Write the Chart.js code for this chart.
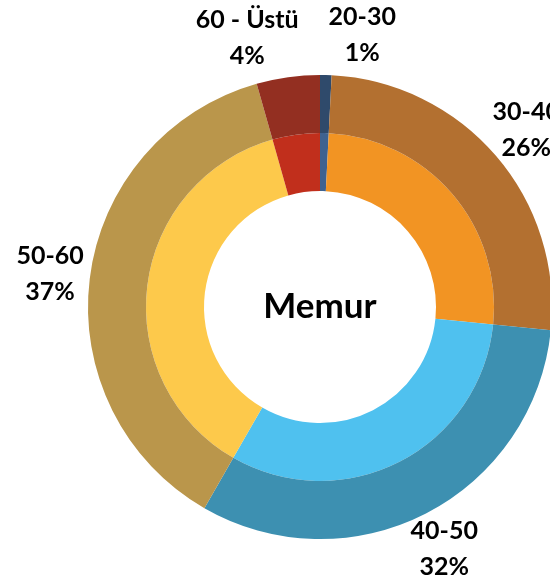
<!DOCTYPE html>
<html>
<head>
<meta charset="utf-8">
<script src="https://cdn.jsdelivr.net/npm/chart.js@4/dist/chart.umd.min.js"></script>
<style>
  html, body { margin: 0; padding: 0; background: #fff; overflow: hidden; }
  #wrap { width: 550px; height: 576px; overflow: hidden; }
</style>
</head>
<body>
<div id="wrap"><canvas id="memurChart" width="640" height="614"></canvas></div>
<script>
// yaş grupları ve oranlar (%)
const categories = ['20-30', '30-40', '40-50', '50-60', '60 - Üstü'];
const values = [0.8, 25.8, 31.7, 37.3, 4.4];
const centerTitle = 'Memur';

const outerColors = ['#2F4A6B', '#B37030', '#3D90B1', '#BA964B', '#932F21'];
const innerColors = ['#3E6290', '#F29423', '#4FC1EF', '#FDC94B', '#C12F1C'];

const labelFont = 'bold 25px Lato, "DejaVu Sans", sans-serif';

// etiketler + ortadaki yazı
const labelPlugin = {
    id: 'pieLabels',
    afterDraw(chart) {
        const ctx = chart.ctx;
        const meta = chart.getDatasetMeta(0);
        const total = values.reduce((a, b) => a + b, 0);
        ctx.save();
        ctx.font = labelFont;
        ctx.fillStyle = '#000';
        ctx.textAlign = 'center';
        ctx.textBaseline = 'middle';

        const boxes = meta.data.map((arc, i) => {
            const p = arc.getProps(['x', 'y', 'startAngle', 'endAngle', 'outerRadius'], true);
            const mid = (p.startAngle + p.endAngle) / 2;
            const r = p.outerRadius + 40;
            const line1 = categories[i];
            const line2 = Math.round(values[i] / total * 100) + '%';
            const w = Math.max(ctx.measureText(line1).width, ctx.measureText(line2).width);
            return { x: p.x + Math.cos(mid) * r, y: p.y + Math.sin(mid) * r, w: w, h: 74, line1, line2 };
        });

        // çakışan etiketleri yana it
        for (let i = 0; i < boxes.length; i++) {
            for (let j = i + 1; j < boxes.length; j++) {
                const a = boxes[i], b = boxes[j];
                const need = (a.w + b.w) / 2 + 30;
                if (Math.abs(a.x - b.x) < need && Math.abs(a.y - b.y) < (a.h + b.h) / 2) {
                    const push = (need - Math.abs(a.x - b.x)) / 2;
                    if (a.x >= b.x) { a.x += push; b.x -= push; } else { a.x -= push; b.x += push; }
                }
            }
        }

        boxes.forEach(b => {
            ctx.fillText(b.line1, b.x, b.y - 18);
            ctx.fillText(b.line2, b.x, b.y + 18);
        });

        const c = meta.data[0];
        ctx.font = 'bold 35px Lato, "DejaVu Sans", sans-serif';
        ctx.fillText(centerTitle, c.x, c.y);
        ctx.restore();
    }
};

const ctx = document.getElementById('memurChart');

new Chart(ctx, {
    type: 'doughnut',
    data: {
        labels: categories,
        datasets: [
            {
                label: 'Dış',
                data: values,
                backgroundColor: outerColors,
                borderWidth: 0
            },
            {
                label: 'İç',
                data: values,
                backgroundColor: innerColors,
                borderWidth: 0
            }
        ]
    },
    options: {
        responsive: false,
        animation: false,
        cutout: '50%',
        layout: { padding: 75 },
        plugins: {
            legend: { display: false },
            tooltip: { enabled: false }
        }
    },
    plugins: [labelPlugin]
});
</script>
</body>
</html>
